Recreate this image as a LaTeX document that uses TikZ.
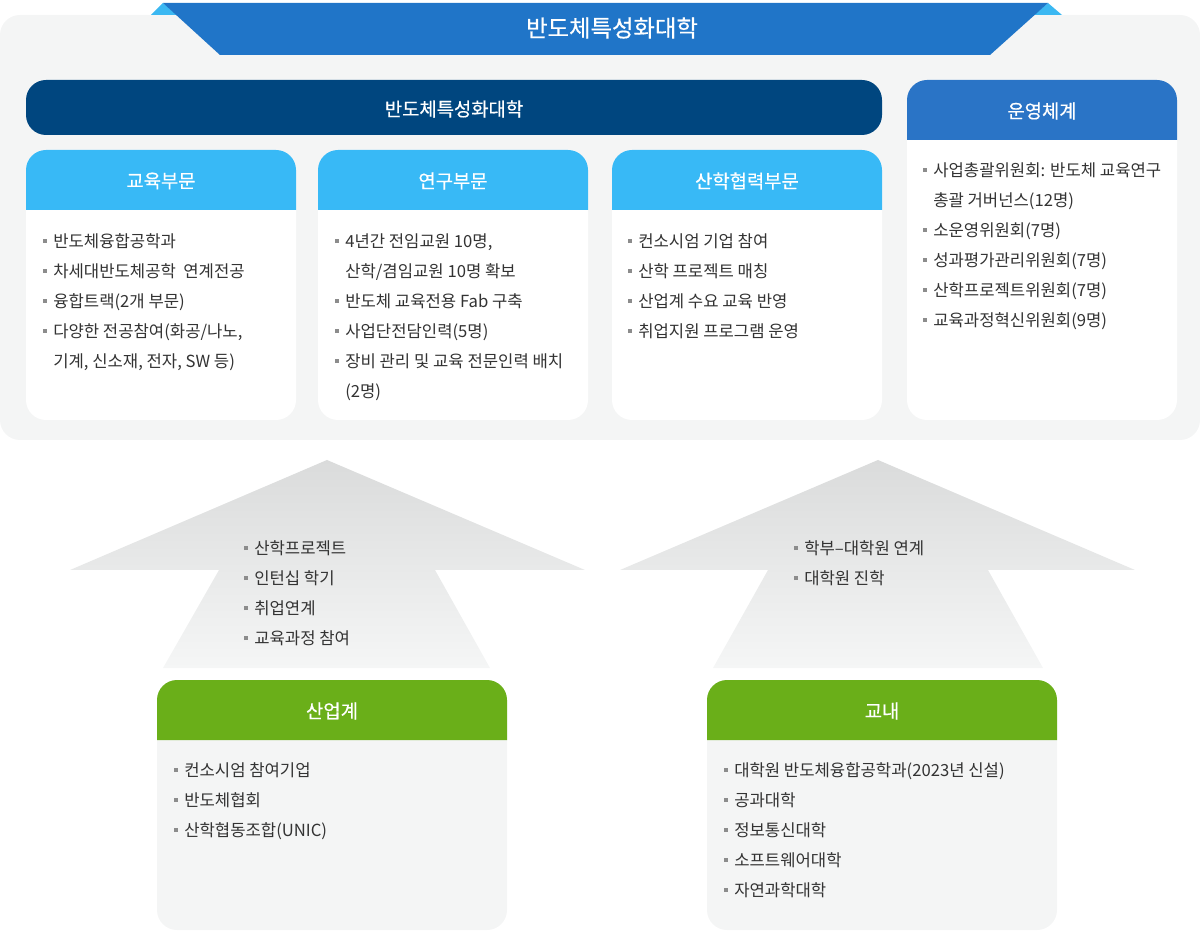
\documentclass[tikz,border=0pt]{standalone}
\usepackage{fontspec}
\setmainfont{Noto Sans CJK KR}
\newfontfamily\headfont[FakeBold=0.5]{Noto Sans CJK KR}
\usetikzlibrary{shapes,arrows}
\definecolor{panelgray}{HTML}{F4F5F5}
\definecolor{bannerblue}{HTML}{2075C8}
\definecolor{foldblue}{HTML}{3BB8F2}
\definecolor{navy}{HTML}{00467F}
\definecolor{skyblue}{HTML}{38B9F6}
\definecolor{opsblue}{HTML}{2A74C6}
\definecolor{leafgreen}{HTML}{6AAF19}
\definecolor{itemgray}{HTML}{333333}
\definecolor{bulgray}{HTML}{8C8C8C}
\definecolor{arrowtop}{HTML}{DADBDB}
\definecolor{arrowbot}{HTML}{F5F6F6}
\newcommand{\bul}{\makebox[7.5pt][l]{\textcolor{bulgray}{\rule[3pt]{3pt}{3pt}}}}
\newcommand{\ind}{\hspace*{7.5pt}}
\tikzstyle{itemtext}=[anchor=base west, inner sep=0pt, text=itemgray,
                      font=\fontsize{12.5}{14}\selectfont]
\tikzstyle{headtext}=[inner sep=0pt, text=white,
                      font=\headfont\fontsize{14.1}{16}\selectfont]
\newcommand{\card}[8]{
  \fill[#7, rounded corners=15pt] (#2,#3) rectangle (#4,#5);
  \fill[#6] (#2,#3+60) [rounded corners=15pt] -- (#2,#3) -- (#4,#3)
            [sharp corners] -- (#4,#3+60) -- cycle;
  \node[headtext] (#1) at ({(#2+#4)/2},#3+31) {#8};
}
\newcommand{\itemlist}[4]{
  \foreach \t [count=\i] in {#4}
    \node[itemtext] (#1-\i) at (#2,#3+30*\i-23.8) {\t};
}
\tikzset{x=0.75pt, y=-0.75pt}

\begin{document}
\begin{tikzpicture}
  \useasboundingbox (0,0) rectangle (1200,937);
  \fill[panelgray, rounded corners=15pt] (0,15) rectangle (1200,440);
  \fill[foldblue] (151,15) -- (163,3) -- (177,15) -- cycle;
  \fill[foldblue] (1034,15) -- (1048,3) -- (1062,15) -- cycle;
  \fill[bannerblue] (163,3) -- (1048,3) -- (990,55) -- (220,55) -- cycle;
  \node[headtext, font=\headfont\fontsize{17.5}{20}\selectfont] (title) at (612,28) {반도체특성화대학};

  \fill[navy, rounded corners=15pt] (26,80) rectangle (882,135);
  \node[headtext] (bar) at (454,109) {반도체특성화대학};

  \card{edu}{26}{150}{296}{420}{skyblue}{white}{교육부문}
  \card{res}{318}{150}{588}{420}{skyblue}{white}{연구부문}
  \card{coop}{612}{150}{882}{420}{skyblue}{white}{산학협력부문}
  \card{ops}{907}{80}{1177}{420}{opsblue}{white}{운영체계}

  \itemlist{edu}{43}{241}{{\bul 반도체융합공학과}, {\bul 차세대반도체공학\ \ 연계전공},
    {\bul 융합트랙(2개 부문)}, {\bul 다양한 전공참여(화공/나노,}, {\ind 기계, 신소재, 전자, SW 등)}}
  \itemlist{res}{335}{241}{{\bul 4년간 전임교원 10명,}, {\ind 산학/겸임교원 10명 확보},
    {\bul 반도체 교육전용 Fab 구축}, {\bul 사업단전담인력(5명)},
    {\bul 장비 관리 및 교육 전문인력 배치}, {\ind (2명)}}
  \itemlist{coop}{628}{241}{{\bul 컨소시엄 기업 참여}, {\bul 산학 프로젝트 매칭},
    {\bul 산업계 수요 교육 반영}, {\bul 취업지원 프로그램 운영}}
  \itemlist{ops}{923}{170}{{\bul 사업총괄위원회: 반도체 교육연구}, {\ind 총괄 거버넌스(12명)},
    {\bul 소운영위원회(7명)}, {\bul 성과평가관리위원회(7명)},
    {\bul 산학프로젝트위원회(7명)}, {\bul 교육과정혁신위원회(9명)}}

  \shade[top color=arrowtop, bottom color=arrowbot] (327,460) -- (585,570) -- (435,570)
    -- (490,668) -- (163,668) -- (219,570) -- (70,570) -- cycle;
  \shade[top color=arrowtop, bottom color=arrowbot] (878,460) -- (1135,570) -- (988,570)
    -- (1043,668) -- (713,668) -- (768,570) -- (620,570) -- cycle;
  \itemlist{ind}{244}{548}{{\bul 산학프로젝트}, {\bul 인턴십 학기}, {\bul 취업연계}, {\bul 교육과정 참여}}
  \itemlist{grad}{794}{548}{{\bul 학부–대학원 연계}, {\bul 대학원 진학}}

  \card{indus}{157}{680}{507}{930}{leafgreen}{panelgray}{산업계}
  \card{campus}{707}{680}{1057}{930}{leafgreen}{panelgray}{교내}
  \itemlist{indus}{174}{770}{{\bul 컨소시엄 참여기업}, {\bul 반도체협회}, {\bul 산학협동조합(UNIC)}}
  \itemlist{campus}{724}{770}{{\bul 대학원 반도체융합공학과(2023년 신설)}, {\bul 공과대학},
    {\bul 정보통신대학}, {\bul 소프트웨어대학}, {\bul 자연과학대학}}
\end{tikzpicture}
\end{document}
